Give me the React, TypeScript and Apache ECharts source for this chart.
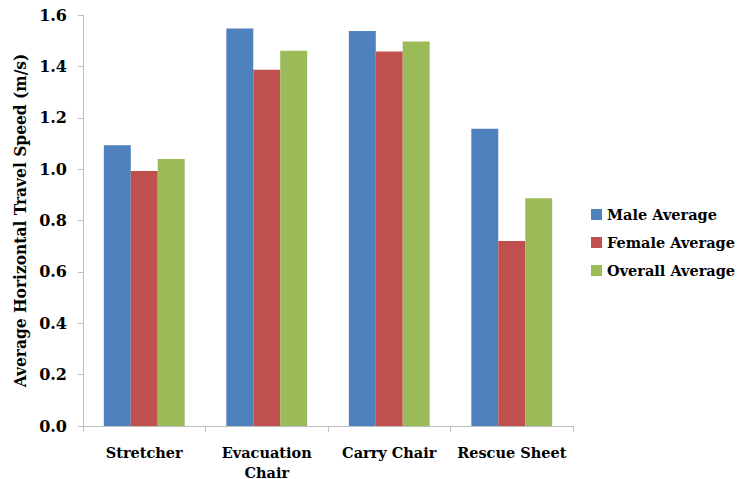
import React, { useEffect, useRef } from "react";
import * as echarts from "echarts";

const categories = ["Stretcher", "Evacuation\nChair", "Carry Chair", "Rescue Sheet"];
const maleAverage = [1.093, 1.547, 1.538, 1.157];
const femaleAverage = [0.993, 1.387, 1.458, 0.72];
const overallAverage = [1.039, 1.461, 1.497, 0.887];
const seriesNames = ["Male Average", "Female Average", "Overall Average"];
const seriesColors = ["#4F81BD", "#C0504D", "#9BBB59"];

const FONT = "'DejaVu Serif', 'Liberation Serif', serif";
const FONT_CONDENSED = "'DejaVu Serif Condensed', 'DejaVu Serif', serif";

export default function App() {
  const ref = useRef<HTMLDivElement>(null);

  useEffect(() => {
    if (!ref.current) return;
    const chart = echarts.init(ref.current, undefined, { renderer: "svg" });
    const values = [maleAverage, femaleAverage, overallAverage];
    chart.setOption({
      animation: false,
      grid: { left: 83, right: 165, top: 15, bottom: 53, containLabel: false, outerBoundsMode: "none" },
      legend: {
        orient: "vertical",
        left: 591,
        top: 207,
        padding: 0,
        itemWidth: 11,
        itemHeight: 11,
        itemGap: 13,
        icon: "rect",
        textStyle: { fontFamily: FONT, fontWeight: "bold", fontSize: 14.5, color: "#000" },
        data: seriesNames,
      },
      xAxis: {
        type: "category",
        data: categories,
        axisLine: { lineStyle: { color: "#BFBFBF", width: 1 } },
        axisTick: { show: true, length: 6, lineStyle: { color: "#BFBFBF" } },
        axisLabel: {
          margin: 16,
          interval: 0,
          fontFamily: FONT,
          fontWeight: "bold",
          fontSize: 14.5,
          lineHeight: 20,
          color: "#000",
        },
      },
      yAxis: {
        type: "value",
        min: 0,
        max: 1.6,
        interval: 0.2,
        name: "Average Horizontal Travel Speed (m/s)",
        nameLocation: "middle",
        nameGap: 52,
        nameTruncate: { maxWidth: 1000 },
        nameTextStyle: { fontFamily: FONT_CONDENSED, fontWeight: "bold", fontSize: 17.2, color: "#000" },
        axisLine: { show: true, lineStyle: { color: "#BFBFBF", width: 1 } },
        axisTick: { show: true, length: 5, lineStyle: { color: "#BFBFBF" } },
        splitLine: { show: false },
        axisLabel: {
          margin: 16,
          fontFamily: FONT,
          fontWeight: "bold",
          fontSize: 16,
          color: "#000",
          formatter: (v: number) => v.toFixed(1),
        },
      },
      series: seriesNames.map((name, i) => ({
        name,
        type: "bar",
        data: values[i],
        barGap: "0%",
        barCategoryGap: "34%",
        itemStyle: { color: seriesColors[i] },
      })),
    });
    return () => chart.dispose();
  }, []);

  return (
    <div
      ref={ref}
      style={{ position: "absolute", left: 0, top: 0, width: 738, height: 479, background: "#fff" }}
    />
  );
}
